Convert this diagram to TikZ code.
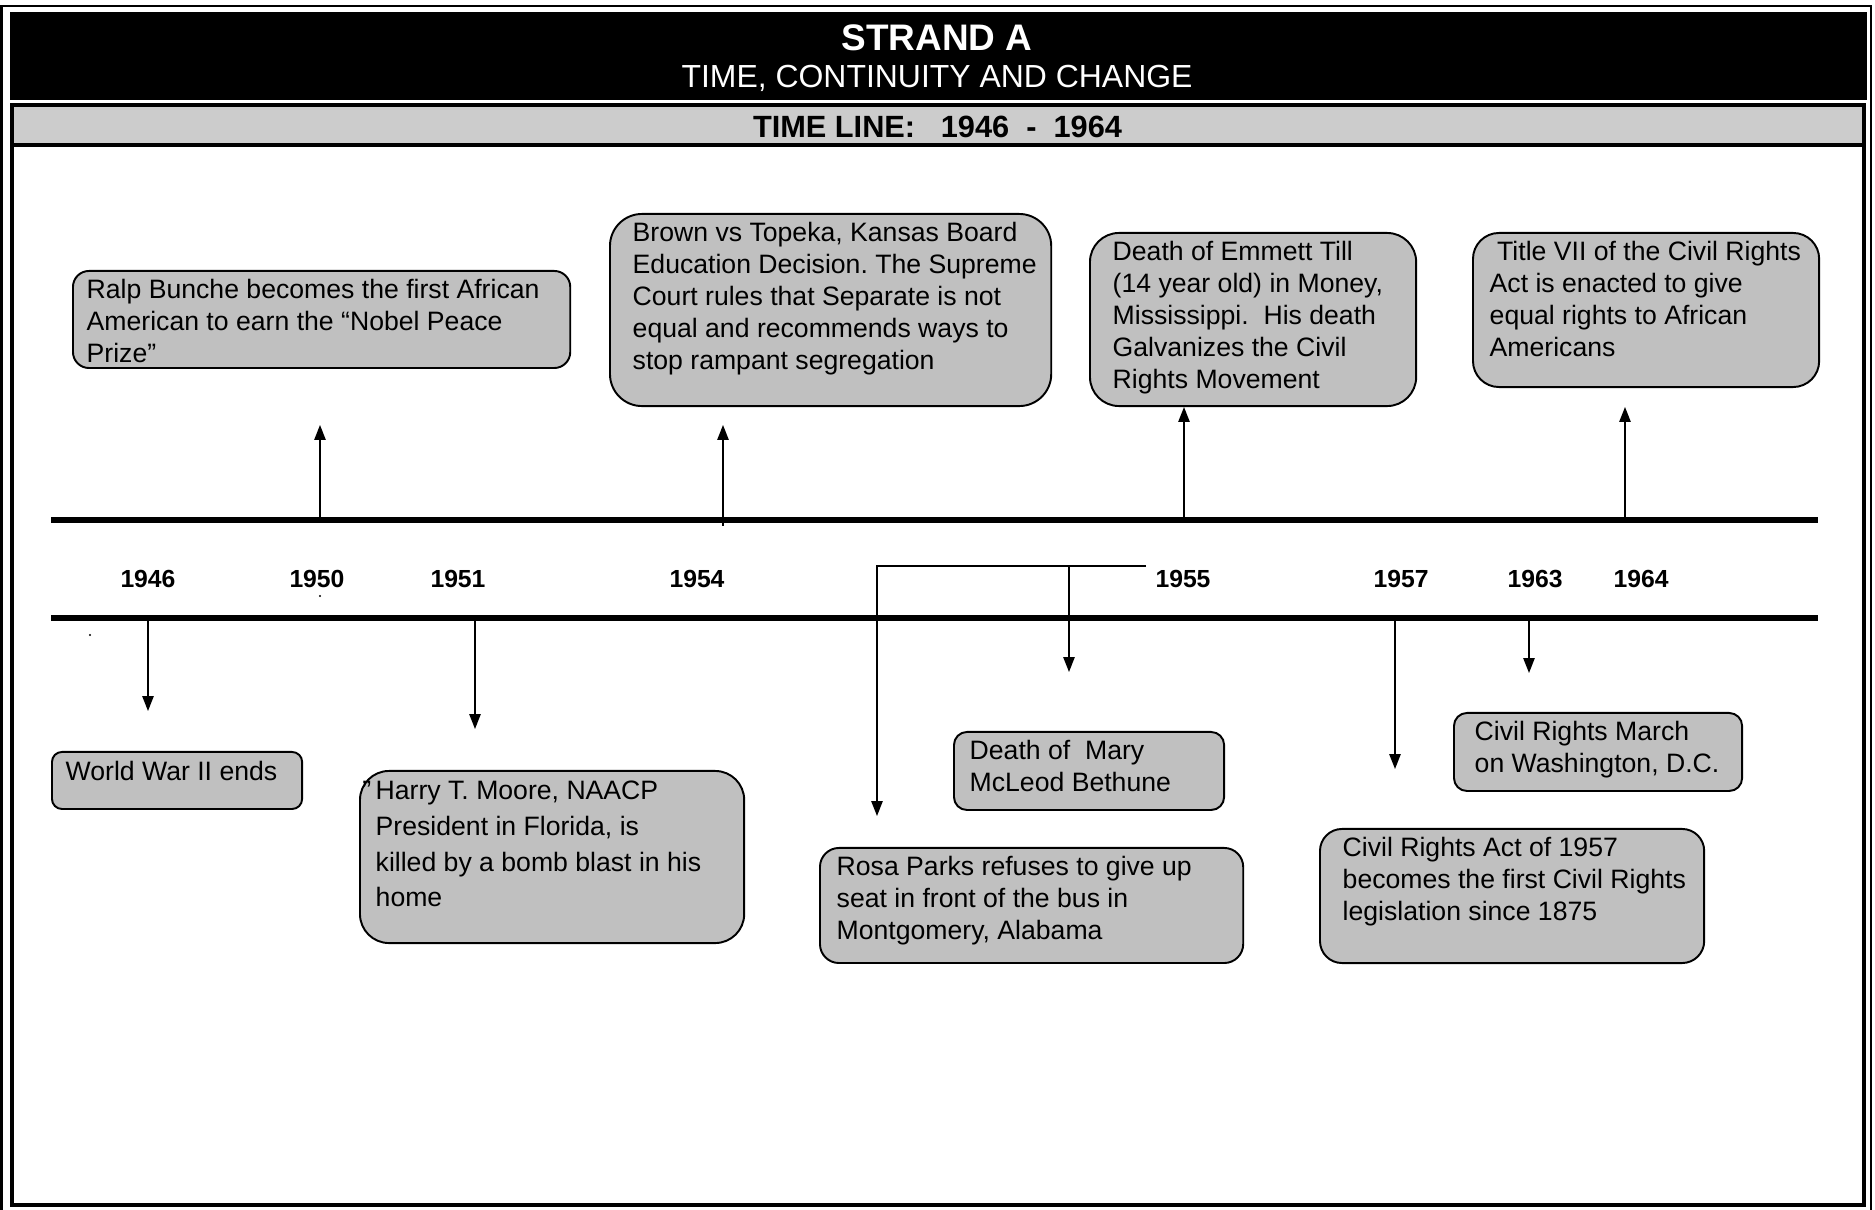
\documentclass[tikz,border=0pt]{standalone}
\usepackage{fontspec}
\setmainfont{Liberation Sans}
\usetikzlibrary{arrows.meta}
\definecolor{boxgray}{HTML}{C0C0C0}
\definecolor{bandgray}{HTML}{CCCCCC}
\frenchspacing
\tikzset{
	evbox/.style={draw, fill=boxgray, line width=0.55pt, anchor=north west, inner sep=0pt},
	evtext/.style={anchor=north west, align=left, inner sep=0pt, font=\fontsize{7.57}{9.05}\selectfont},
	year/.style={inner sep=0pt, font=\bfseries\fontsize{7.03}{8.4}\selectfont},
	pointer/.style={line width=0.4pt, -{Triangle[length=4.2pt,width=3.2pt]}},
	axis/.style={line width=1.7pt}
}
\begin{document}
\begin{tikzpicture}[x=0.01cm, y=-0.01cm]
	\useasboundingbox (0,0) rectangle (1875,1210);
	\draw[line width=0.74pt] (1.2,1210) -- (1.2,6) -- (1871,6) -- (1871,1210);
	\fill (10,12) rectangle (1867,100);
	\fill[bandgray] (12,105) rectangle (1863.5,145);
	\draw[line width=1.14pt] (12,105) rectangle (1863.5,1205);
	\draw[line width=1.14pt] (12,145) -- (1863.5,145);
	\node[white, inner sep=0pt, font=\bfseries\fontsize{10.5}{12}\selectfont] (strand) at (937,38) {STRAND A};
	\node[white, inner sep=0pt, font=\fontsize{9.08}{11}\selectfont] (theme) at (937,78) {TIME, CONTINUITY AND CHANGE};
	\node[inner sep=0pt, font=\bfseries\fontsize{8.74}{10.5}\selectfont] (span) at (937.5,127) {TIME LINE:\ \ \ 1946\ \ -\ \ 1964};

	\draw[axis] (51,520) -- (1818,520);
	\draw[axis] (51,618) -- (1818,618);
	\foreach \yr/\x in {1946/148, 1950/317, 1951/458, 1954/697, 1955/1183, 1957/1401, 1963/1535, 1964/1641}
		\node[year] (y\yr) at (\x,579) {\yr};
	\fill (320,596) circle[radius=1.2];
	\fill (90,635) circle[radius=1.2];

	% above the line
	\node[evbox, minimum width=4.97cm, minimum height=0.97cm, rounded corners=1.6mm] (bunche) at (72,270) {};
	\node[evtext] (bunche-t) at ([shift={(14,9)}]bunche.north west) {Ralp Bunche becomes the first African\\American to earn the “Nobel Peace\\Prize”};
	\node[evbox, minimum width=4.41cm, minimum height=1.92cm, rounded corners=3.2mm] (brown) at (609,213) {};
	\node[evtext] (brown-t) at ([shift={(23,9)}]brown.north west) {Brown vs Topeka, Kansas Board\\Education Decision. The Supreme\\Court rules that Separate is not\\equal and recommends ways to\\stop rampant segregation};
	\node[evbox, minimum width=3.26cm, minimum height=1.73cm, rounded corners=2.9mm] (till) at (1089,232) {};
	\node[evtext] (till-t) at ([shift={(23,9)}]till.north west) {Death of Emmett Till\\(14 year old) in Money,\\Mississippi.\ \ His death\\Galvanizes the Civil\\Rights Movement};
	\node[evbox, minimum width=3.46cm, minimum height=1.54cm, rounded corners=2.6mm] (title7) at (1472,232) {};
	\node[evtext] (title7-t) at ([shift={(17,9)}]title7.north west) {\hspace*{.28em}Title VII of the Civil Rights\\Act is enacted to give\\equal rights to African\\Americans};

	% below the line
	\node[evbox, minimum width=2.50cm, minimum height=0.57cm, rounded corners=1mm] (ww2) at (51,751) {};
	\node[evtext] (ww2-t) at ([shift={(14,10)}]ww2.north west) {World War II ends};
	\node[evbox, minimum width=3.84cm, minimum height=1.72cm, rounded corners=2.9mm] (moore) at (359,770) {};
	\node[evtext, font=\fontsize{7.57}{10.2}\selectfont] (moore-t) at ([shift={(16,10)}]moore.north west) {\llap{”\,}Harry T. Moore, NAACP\\President in Florida, is\\killed by a bomb blast in his\\home};
	\node[evbox, minimum width=2.70cm, minimum height=0.78cm, rounded corners=1.3mm] (bethune) at (953,731) {};
	\node[evtext] (bethune-t) at ([shift={(16,9)}]bethune.north west) {Death of\ \ Mary\\McLeod Bethune};
	\node[evbox, minimum width=4.23cm, minimum height=1.15cm, rounded corners=1.9mm] (parks) at (819,847) {};
	\node[evtext] (parks-t) at ([shift={(17,9)}]parks.north west) {Rosa Parks refuses to give up\\seat in front of the bus in\\Montgomery, Alabama};
	\node[evbox, minimum width=2.88cm, minimum height=0.78cm, rounded corners=1.3mm] (march) at (1453,712) {};
	\node[evtext] (march-t) at ([shift={(21,9)}]march.north west) {Civil Rights March\\on Washington, D.C.};
	\node[evbox, minimum width=3.84cm, minimum height=1.34cm, rounded corners=2.2mm] (act57) at (1319,828) {};
	\node[evtext] (act57-t) at ([shift={(23,9)}]act57.north west) {Civil Rights Act of 1957\\becomes the first Civil Rights\\legislation since 1875};

	\coordinate (s1950) at (320,520); \coordinate (e1950) at (320,425);
	\coordinate (s1954) at (723,526); \coordinate (e1954) at (723,425);
	\coordinate (s1955) at (1184,520);
	\coordinate (s1964) at (1625,520); \coordinate (e1964) at (1625,407);
	\draw[pointer] (s1950) -- (e1950);
	\draw[pointer] (s1954) -- (e1954);
	\draw[pointer] (s1955) -- (s1955 |- till.south);
	\draw[pointer] (s1964) -- (e1964);

	\coordinate (s1946) at (148,618); \coordinate (e1946) at (148,711);
	\coordinate (s1951) at (475,618); \coordinate (e1951) at (475,729);
	\coordinate (s1957) at (1395,618); \coordinate (e1957) at (1395,769);
	\coordinate (s1963) at (1529,618); \coordinate (e1963) at (1529,673);
	\coordinate (fork-r) at (1146,566); \coordinate (fork-l) at (877,566); \coordinate (fork-m) at (1069,566);
	\coordinate (e-parks) at (877,816); \coordinate (e-bethune) at (1069,672);
	\draw[pointer] (s1946) -- (e1946);
	\draw[pointer] (s1951) -- (e1951);
	\draw[pointer] (s1957) -- (e1957);
	\draw[pointer] (s1963) -- (e1963);
	\draw[pointer] (fork-r) -- (fork-l) -- (e-parks);
	\draw[pointer] (fork-m) -- (e-bethune);
\end{tikzpicture}
\end{document}
